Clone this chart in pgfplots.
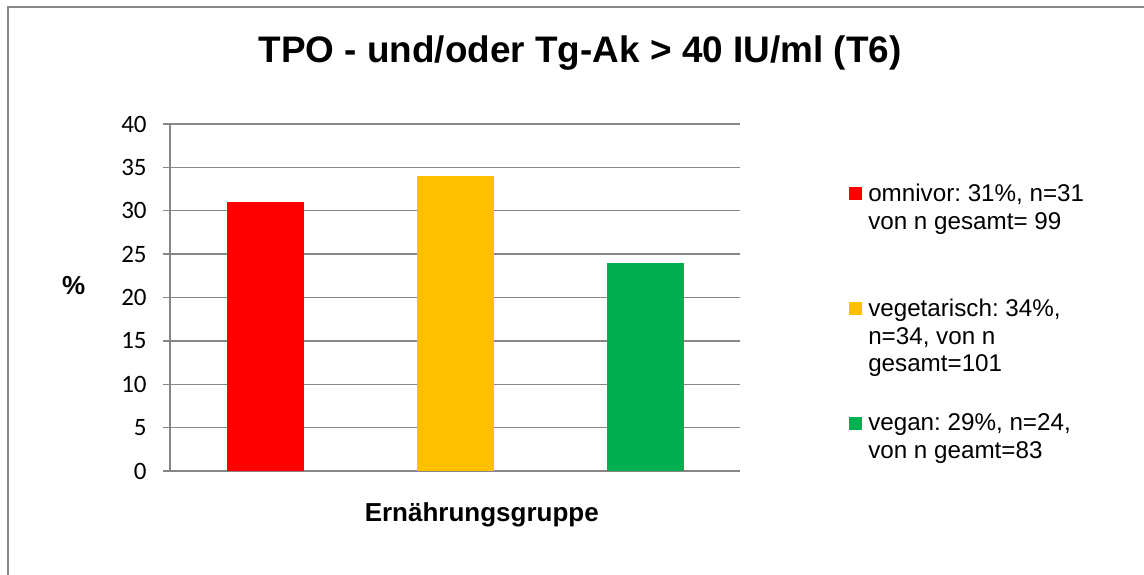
\documentclass[border=0pt]{standalone}
\usepackage{fontspec}
\setmainfont{Liberation Sans}
\newfontfamily\calibri{Carlito}
\usepackage{pgfplots}
\pgfplotsset{compat=1.18}
\definecolor{gridgray}{HTML}{868686}
\definecolor{omni}{HTML}{FF0000}
\definecolor{vege}{HTML}{FFC000}
\definecolor{vegan}{HTML}{00B050}

% legend text: fixed height so the three entries sit at equal steps
\newcommand{\entry}[1]{\parbox[t][57.5pt][t]{120pt}{\frenchspacing\fontsize{12.1}{13.9}\selectfont #1}}

\begin{document}
\frenchspacing
\begin{tikzpicture}
\useasboundingbox (0,0) rectangle (572pt,287pt);
\draw[gridgray, line width=1pt] (4pt,-5pt) -- (4pt,283.5pt) -- (580pt,283.5pt);
\begin{axis}[
    at={(85pt,51.5pt)}, anchor=south west,
    scale only axis, width=285pt, height=173.5pt,
    xmin=-0.5, xmax=2.5, xtick=\empty,
    ymin=0, ymax=40, ytick={0,5,...,40},
    axis x line=bottom, axis y line=left,
    axis line style={gridgray, line width=0.9pt, -},
    ymajorgrids, grid style={gridgray, line width=0.65pt},
    tick align=outside, major tick length=3.5pt,
    ytick style={gridgray, line width=0.65pt},
    /pgf/number format/assume math mode=true,
    yticklabel style={font=\calibri\fontsize{12.5}{14}\selectfont, inner sep=0pt, xshift=-8pt},
    ybar, bar width=38.5pt, bar shift=0pt,
    ylabel={\%},
    ylabel style={rotate=-90, font=\fontsize{13}{15}\selectfont\bfseries,
        at={(axis description cs:-0.169,0.533)}, anchor=center},
    xlabel={Ernährungsgruppe},
    xlabel style={font=\fontsize{13}{15}\selectfont\bfseries,
        at={(axis description cs:0.547,-0.125)}, anchor=center},
    legend style={at={(axis description cs:1.191,0.829)}, anchor=north west,
        draw=none, fill=none, inner sep=0pt, column sep=3pt, row sep=0pt,
        nodes={inner sep=0pt, text depth={}}, cells={anchor=base west}},
    legend image code/.code={\fill[#1] (0pt,0.5pt) rectangle (6.5pt,7pt);},
]
\addplot[fill=omni, draw=none] coordinates {(0,31)};
\addlegendentry{\entry{omnivor: 31\%, n=31\newline von n gesamt= 99}}
\addplot[fill=vege, draw=none] coordinates {(1,34)};
\addlegendentry{\entry{vegetarisch: 34\%,\newline n=34, von n\newline gesamt=101}}
\addplot[fill=vegan, draw=none] coordinates {(2,24)};
\addlegendentry{\entry{vegan: 29\%, n=24,\newline von n geamt=83}}
\end{axis}
\node[anchor=base, font=\fontsize{18.45}{22}\selectfont\bfseries] at (290pt,255.5pt)
    {TPO - und/oder Tg-Ak > 40 IU/ml (T6)};
\end{tikzpicture}
\end{document}
